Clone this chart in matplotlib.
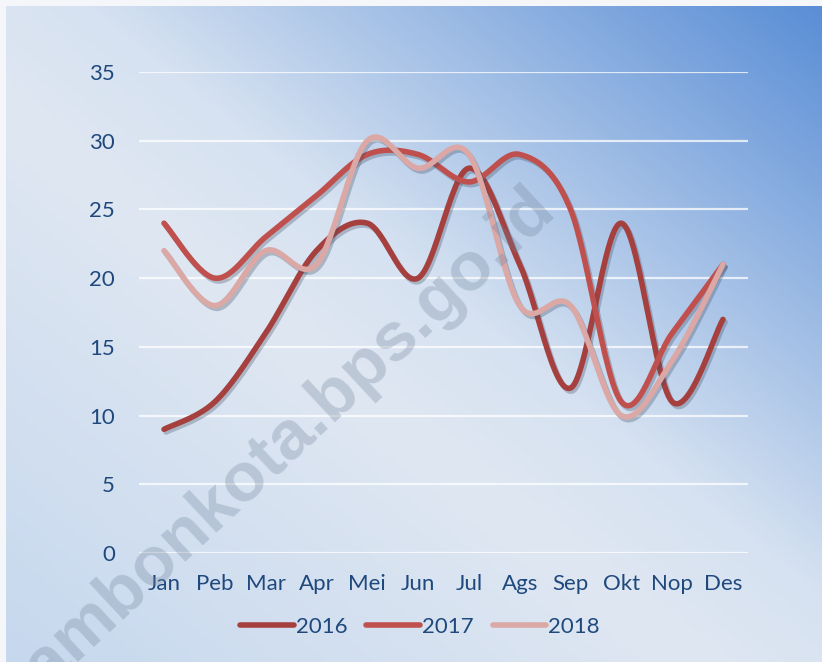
import numpy as np
import matplotlib
matplotlib.use("Agg")
import matplotlib.pyplot as plt
import matplotlib.patheffects as pe
from matplotlib.colors import LinearSegmentedColormap

months = ["Jan", "Peb", "Mar", "Apr", "Mei", "Jun", "Jul", "Ags", "Sep", "Okt", "Nop", "Des"]
y2016 = [9, 11, 16, 22, 24, 20, 28, 21, 12, 24, 11, 17]
y2017 = [24, 20, 23, 26, 29, 29, 27, 29, 25, 11, 16, 21]
y2018 = [22, 18, 22, 21, 30, 28, 29, 18, 18, 10, 14, 21]
years = ["2016", "2017", "2018"]
colors = ["#a5403f", "#c0504d", "#dba8a6"]

text_color = "#1f497d"
plt.rcParams["font.family"] = ["Lato", "DejaVu Sans"]


def smooth(xs, ys, n=30):
    """Excel-like smoothed line (Catmull-Rom Bezier segments)"""
    p = np.column_stack([xs, ys]).astype(float)
    p = np.vstack([p[0], p, p[-1]])
    t = np.linspace(0, 1, n)[:, None]
    out = []
    for i in range(1, len(p) - 2):
        p0, p3 = p[i], p[i + 1]
        c1 = p0 + (p[i + 1] - p[i - 1]) / 6
        c2 = p3 - (p[i + 2] - p[i]) / 6
        seg = ((1 - t) ** 3) * p0 + 3 * ((1 - t) ** 2) * t * c1 + 3 * (1 - t) * t ** 2 * c2 + t ** 3 * p3
        out.append(seg if i == 1 else seg[1:])
    out = np.vstack(out)
    return out[:, 0], out[:, 1]


fig = plt.figure(figsize=(8.22, 6.62), dpi=100, facecolor="#f4f6fa")

# gradient background
bg = fig.add_axes([6 / 822, 0, 1 - 6 / 822, 1 - 6 / 662], zorder=-10)
gx, gy = np.meshgrid(np.linspace(0, 1, 400), np.linspace(1, 0, 320))
grad = (gx + gy) / 2
cmap = LinearSegmentedColormap.from_list(
    "bg", [(0, "#c6d8ee"), (0.42, "#dfe7f2"), (0.55, "#d6e2f1"), (1, "#5a8ed6")])
bg.imshow(grad, cmap=cmap, aspect="auto", extent=[0, 1, 0, 1], vmin=0, vmax=1)
bg.axis("off")

ax = fig.add_axes([138.6 / 822, 1 - 553 / 662, (748.4 - 138.6) / 822, (553 - 72) / 662])
ax.patch.set_visible(False)
for s in ax.spines.values():
    s.set_visible(False)

x = np.arange(len(months))
for vals, year, c in zip([y2016, y2017, y2018], years, colors):
    sx, sy = smooth(x, vals)
    ax.plot(sx, sy, color=c, lw=4, solid_capstyle="round", label=year, zorder=3,
            path_effects=[pe.SimpleLineShadow(offset=(1.5, -2), shadow_color="#3a4a60", alpha=0.3),
                          pe.Normal()])

ax.set_xlim(-0.5, 11.5)
ax.set_ylim(0, 35)
ax.set_yticks(range(0, 36, 5))
ax.set_xticks(x)
ax.set_xticklabels(months)
ax.yaxis.grid(True, color="white", lw=1.6, alpha=0.75)
ax.set_axisbelow(True)
ax.tick_params(length=0, labelsize=16, labelcolor=text_color)
ax.tick_params(axis="y", pad=17)
ax.tick_params(axis="x", pad=15)

leg = fig.legend(loc="center", bbox_to_anchor=(0.511, 1 - 627 / 662), ncol=3, frameon=False,
                 fontsize=16, handlelength=2.4, handletextpad=0.1, columnspacing=0.85)
for t in leg.get_texts():
    t.set_color(text_color)
for h in leg.get_lines():
    h.set_linewidth(4)
    h.set_path_effects([])

# watermark
fig.text(46 / 822, 1 - 690 / 662, "ambonkota.bps.go.id", fontsize=50, fontweight="bold",
         family="Liberation Sans", color="#6f8299", alpha=0.3, rotation=43,
         rotation_mode="anchor", ha="left", va="baseline", zorder=5)

fig.savefig("out.png", dpi=100, facecolor=fig.get_facecolor())
